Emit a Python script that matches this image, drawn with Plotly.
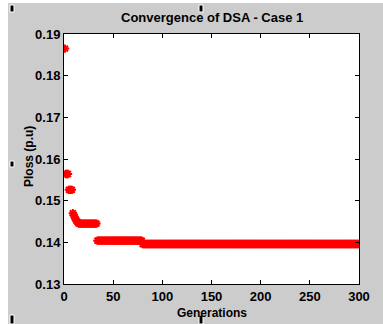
import plotly.graph_objects as go

generations = list(range(1, 301))
ploss = ([0.1865]
         + [0.1564] * 3
         + [0.1526] * 4
         + [0.1470, 0.1465, 0.1460, 0.1455, 0.1451, 0.1448]
         + [0.1445] * 19
         + [0.1404] * 46
         + [0.1396] * 221)

x_ticks = [0, 50, 100, 150, 200, 250, 300]
y_ticks = [0.13, 0.14, 0.15, 0.16, 0.17, 0.18, 0.19]

title_text = "Convergence of DSA - Case 1"
x_label = "Generations"
y_label = "Ploss (p.u)"

FONT = "Liberation Sans Narrow, Arial Narrow, Liberation Sans, Arial, sans-serif"

fig = go.Figure()
fig.add_trace(go.Scatter(
    x=generations, y=ploss, mode="markers",
    marker=dict(symbol="asterisk-open", size=7, color="red",
                line=dict(color="red", width=2)),
    hoverinfo="skip", showlegend=False,
))

W, H = 383, 324
L, R, T, B = 64, 24, 34, 40
pw, ph = W - L - R, H - T - B

def px(xp):
    return (xp - L) / pw

def py(yp):
    return (H - B - yp) / ph

shapes = [
    # white strips outside the grey figure
    dict(type="rect", xref="paper", yref="paper", x0=px(-1), x1=px(8), y0=py(-1), y1=py(H + 1),
         fillcolor="white", line=dict(width=0), layer="below"),
    dict(type="rect", xref="paper", yref="paper", x0=px(-1), x1=px(W + 1), y0=py(3), y1=py(-1),
         fillcolor="white", line=dict(width=0), layer="below"),
]
# selection handles
for (x0, y0, x1, y1) in [(10, 5, 14, 12), (199, 5, 203, 12), (10, 161, 14, 167),
                         (10, 315, 14, 324), (199, 315, 203, 324)]:
    shapes.append(dict(type="rect", xref="paper", yref="paper",
                       x0=px(x0), x1=px(x1), y0=py(y1), y1=py(y0),
                       fillcolor="black", line=dict(color="white", width=1)))

axis_common = dict(
    showgrid=False, zeroline=False, showline=True, linecolor="black", linewidth=1,
    mirror="ticks", ticks="inside", ticklen=4, tickcolor="black", tickwidth=1,
    tickfont=dict(family=FONT, size=13, color="black", weight="bold"),
)

fig.update_layout(
    width=W, height=H,
    margin=dict(l=L, r=R, t=T, b=B, pad=0),
    paper_bgcolor="#cccccc", plot_bgcolor="white",
    xaxis=dict(range=[0, 300], tickvals=x_ticks, ticktext=[str(v) for v in x_ticks], **axis_common),
    yaxis=dict(range=[0.13, 0.19], tickvals=y_ticks, ticktext=[f"{v:.2f}" for v in y_ticks], **axis_common),
    shapes=shapes,
    annotations=[
        dict(text=title_text, xref="paper", yref="paper", x=0.5, y=py(18),
             xanchor="center", yanchor="middle", showarrow=False,
             font=dict(family=FONT, size=13, color="black", weight=600)),
        dict(text=x_label, xref="paper", yref="paper", x=px(212), y=py(313),
             xanchor="center", yanchor="middle", showarrow=False,
             font=dict(family=FONT, size=12, color="black", weight="bold")),
        dict(text=y_label, xref="paper", yref="paper", x=px(29), y=py(157),
             xanchor="center", yanchor="middle", showarrow=False, textangle=-90,
             font=dict(family=FONT, size=12, color="black", weight="bold")),
    ],
)

fig.write_html("out.html", config={"displayModeBar": False, "staticPlot": True},
               post_script="document.body.style.margin='0';document.body.style.overflow='hidden';")
